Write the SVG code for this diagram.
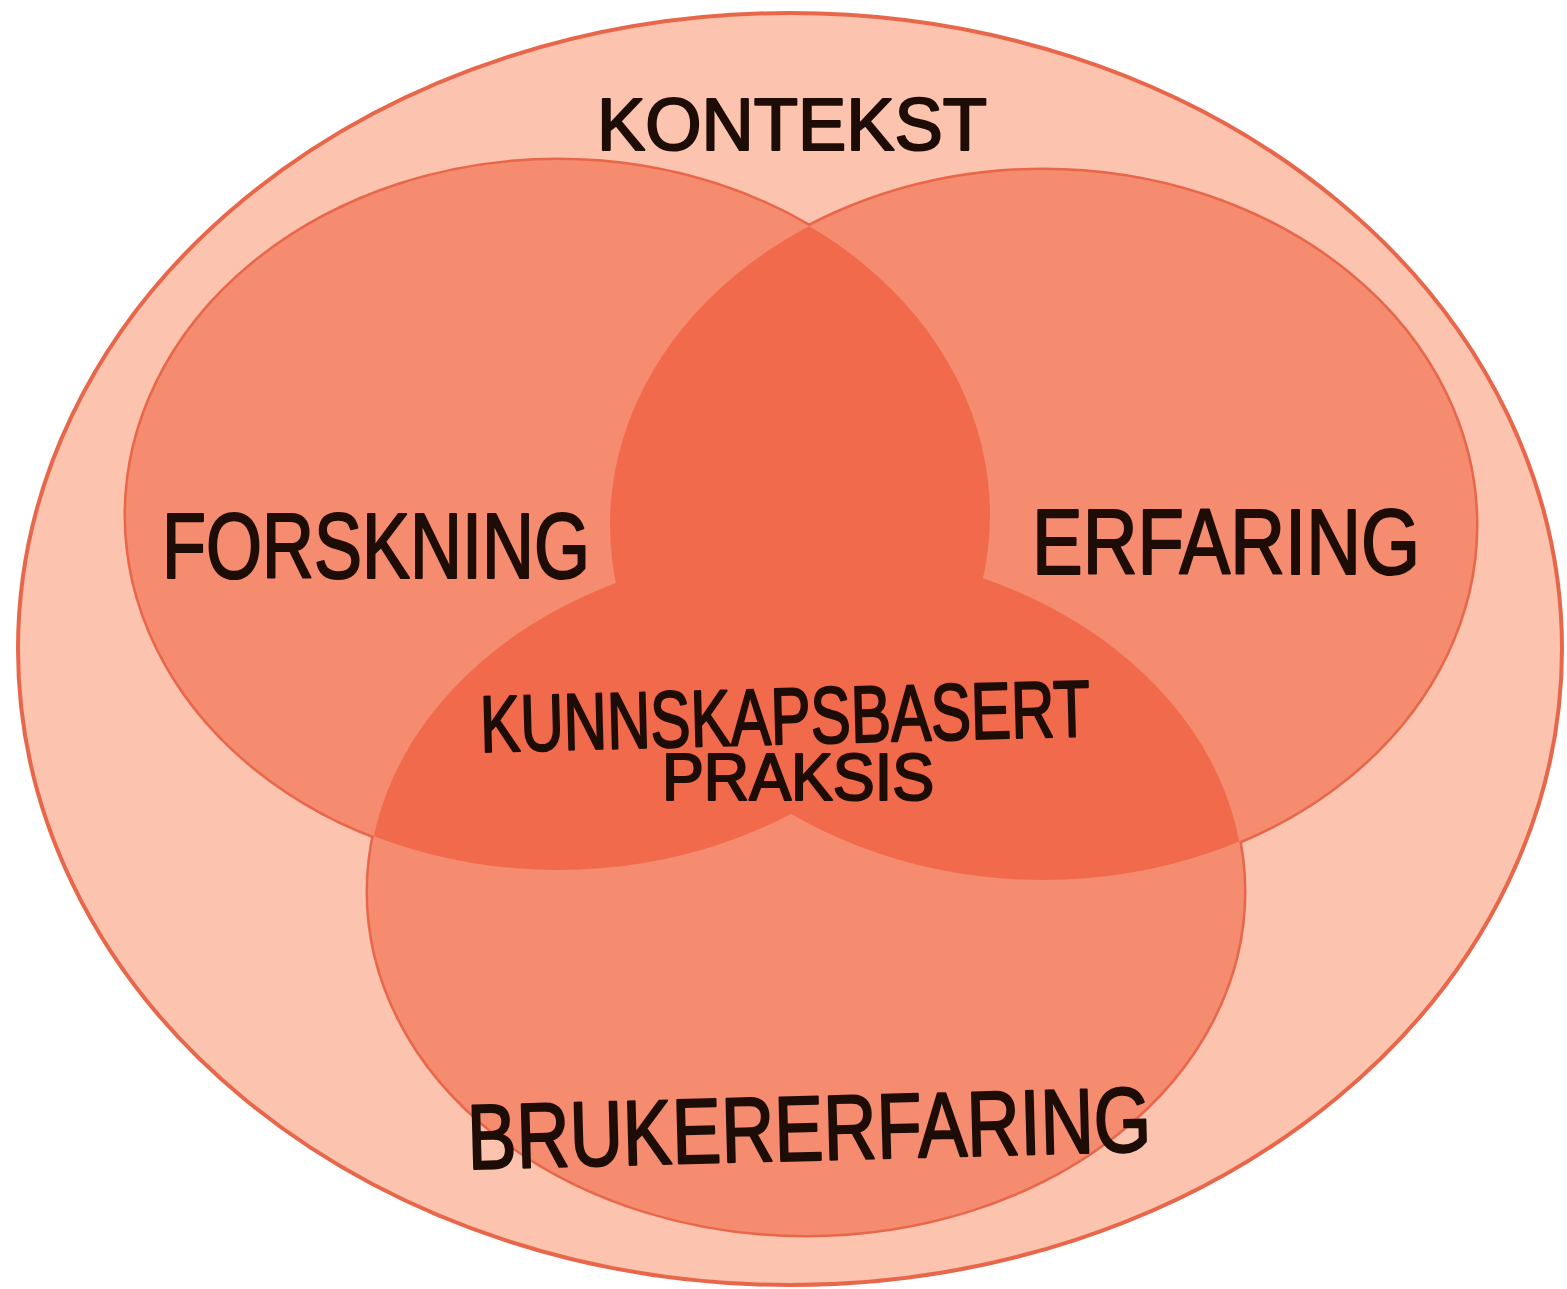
<svg xmlns="http://www.w3.org/2000/svg" width="1567" height="1289" viewBox="0 0 1567 1289">
  <style>
    .edge { fill: none; stroke: #E8674B; stroke-width: 5; }
    .ring { fill: #FCC4AE; stroke: #E8674B; stroke-width: 4; }
    .circ { fill: #F58C70; stroke: none; }
    .over { fill: #F16A4B; stroke: none; }
    .lbl { font-family: "Liberation Sans", "DejaVu Sans", sans-serif; fill: #1E0C07; stroke: #1E0C07; stroke-width: 2.2; stroke-linejoin: round; }
  </style>
  <defs>
    <ellipse id="eL" cx="558" cy="515" rx="432" ry="355"/>
    <ellipse id="eR" cx="1043" cy="525" rx="433" ry="355"/>
    <ellipse id="eB" cx="806" cy="892" rx="438" ry="343"/>
    <clipPath id="clipL"><use href="#eL"/></clipPath>
    <clipPath id="clipR"><use href="#eR"/></clipPath>
    <clipPath id="clipB"><use href="#eB"/></clipPath>
  </defs>
  <rect width="1567" height="1289" fill="#FFFFFF"/>

  <g id="kontekst">
    <ellipse class="ring" cx="790" cy="649" rx="772" ry="636"/>
    <text class="lbl" x="597" y="150" font-size="74" textLength="390" lengthAdjust="spacingAndGlyphs">KONTEKST</text>
  </g>

  <g id="circle-outlines">
    <use href="#eL" class="edge"/>
    <use href="#eR" class="edge"/>
    <use href="#eB" class="edge"/>
  </g>

  <g id="forskning">
    <use href="#eL" class="circ"/>
  </g>
  <g id="erfaring">
    <use href="#eR" class="circ"/>
  </g>
  <g id="brukererfaring">
    <use href="#eB" class="circ"/>
  </g>

  <g id="kunnskapsbasert-praksis">
    <g clip-path="url(#clipR)"><use href="#eL" class="over"/></g>
    <g clip-path="url(#clipB)"><use href="#eL" class="over"/></g>
    <g clip-path="url(#clipB)"><use href="#eR" class="over"/></g>
  </g>

  <g id="labels">
    <text class="lbl" x="162" y="578" font-size="92" textLength="428" lengthAdjust="spacingAndGlyphs">FORSKNING</text>
    <text class="lbl" x="1032" y="574" font-size="92" textLength="388" lengthAdjust="spacingAndGlyphs">ERFARING</text>
    <text class="lbl" x="480" y="744" font-size="80" textLength="610" lengthAdjust="spacingAndGlyphs" transform="rotate(-1.5 785 715)">KUNNSKAPSBASERT</text>
    <text class="lbl" x="662" y="800" font-size="66" textLength="272" lengthAdjust="spacingAndGlyphs">PRAKSIS</text>
    <text class="lbl" x="467" y="1160" font-size="92" textLength="684" lengthAdjust="spacingAndGlyphs" transform="rotate(-1.5 810 1125)">BRUKERERFARING</text>
  </g>

  <g id="connectors"/>
</svg>
